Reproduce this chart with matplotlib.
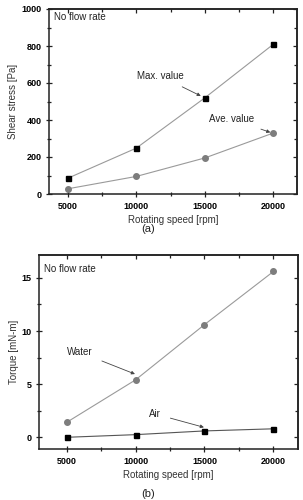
import matplotlib
matplotlib.use("Agg")
import matplotlib.pyplot as plt
from matplotlib.ticker import MultipleLocator

plt.rcParams['font.family'] = ['Liberation Sans', 'DejaVu Sans']

speed = [5000, 10000, 15000, 20000]
max_shear = [85, 248, 520, 810]
ave_shear = [28, 95, 195, 330]
torque_water = [1.4, 5.4, 10.6, 15.6]
torque_air = [0.0, 0.25, 0.6, 0.8]

line_col = '#9a9a9a'
circ_col = '#7d7d7d'


def style_axes(ax, xmaj, xmin, ymaj, ymin):
    ax.xaxis.set_major_locator(MultipleLocator(xmaj))
    ax.xaxis.set_minor_locator(MultipleLocator(xmin))
    ax.yaxis.set_major_locator(MultipleLocator(ymaj))
    ax.yaxis.set_minor_locator(MultipleLocator(ymin))
    for s in ax.spines.values():
        s.set_linewidth(1.1)
        s.set_color('#222222')
    ax.tick_params(which='both', direction='inout', labelsize=6.5,
                   width=0.9, color='#222222', pad=3.5)
    ax.tick_params(which='major', length=4)
    ax.tick_params(which='minor', length=3)
    for lab in ax.get_xticklabels() + ax.get_yticklabels():
        lab.set_fontweight('bold')
    # inward ticks on the top and right sides
    top = ax.secondary_xaxis('top')
    right = ax.secondary_yaxis('right')
    top.xaxis.set_major_locator(MultipleLocator(xmaj))
    top.xaxis.set_minor_locator(MultipleLocator(xmin))
    right.yaxis.set_major_locator(MultipleLocator(ymaj))
    right.yaxis.set_minor_locator(MultipleLocator(ymin))
    for sec in (top, right):
        sec.tick_params(which='both', direction='in', labelleft=False,
                        labelright=False, labeltop=False, labelbottom=False,
                        width=0.9, color='#222222')
        sec.tick_params(which='major', length=3)
        sec.tick_params(which='minor', length=2)
        for s in sec.spines.values():
            s.set_linewidth(1.1)
            s.set_color('#222222')


fig = plt.figure(figsize=(3.03, 5.0), dpi=100)

# (a) shear stress
ax1 = fig.add_axes([0.1617, 0.612, 0.8183, 0.37])
ax1.plot(speed, max_shear, color=line_col, lw=0.8, marker='s', ms=3.6,
         mfc='black', mec='black')
ax1.plot(speed, ave_shear, color=line_col, lw=0.8, marker='o', ms=4.0,
         mfc=circ_col, mec=circ_col)
ax1.set_xlim(3635, 21710)
ax1.set_ylim(0, 1000)
ax1.set_xlabel('Rotating speed [rpm]', fontsize=7, color='#333333', labelpad=3)
ax1.set_ylabel('Shear stress [Pa]', fontsize=7, color='#333333', labelpad=2)
style_axes(ax1, 5000, 2500, 200, 100)
ax1.text(0.02, 0.955, 'No flow rate', transform=ax1.transAxes, fontsize=7,
         ha='left', va='center', color='#222222')
ax1.annotate('Max. value', xy=(14700, 530), xytext=(11740, 638), fontsize=7,
             ha='center', va='center', color='#222222',
             arrowprops=dict(arrowstyle='-|>', color='#444444', lw=0.6,
                             mutation_scale=5, shrinkA=5, shrinkB=0))
ax1.annotate('Ave. value', xy=(19770, 333), xytext=(16970, 405), fontsize=7,
             ha='center', va='center', color='#222222',
             arrowprops=dict(arrowstyle='-|>', color='#444444', lw=0.6,
                             mutation_scale=5, shrinkA=5, shrinkB=0))
fig.text(0.49, 0.542, '(a)', fontsize=8, ha='center', va='center', color='#222222')

# (b) torque
ax2 = fig.add_axes([0.129, 0.102, 0.854, 0.388])
ax2.plot(speed, torque_water, color=line_col, lw=0.8, marker='o', ms=4.0,
         mfc=circ_col, mec=circ_col)
ax2.plot(speed, torque_air, color='#555555', lw=0.8, marker='s', ms=3.6,
         mfc='black', mec='black')
ax2.set_xlim(3010, 21770)
ax2.set_ylim(-1.1, 17.15)
ax2.set_xlabel('Rotating speed [rpm]', fontsize=7, color='#333333', labelpad=3)
ax2.set_ylabel('Torque [mN-m]', fontsize=7, color='#333333', labelpad=2)
style_axes(ax2, 5000, 2500, 5, 2.5)
ax2.text(0.02, 0.93, 'No flow rate', transform=ax2.transAxes, fontsize=7,
         ha='left', va='center', color='#222222')
ax2.annotate('Water', xy=(9960, 5.95), xytext=(5965, 8.0), fontsize=7,
             ha='center', va='center', color='#222222',
             arrowprops=dict(arrowstyle='-|>', color='#444444', lw=0.6,
                             mutation_scale=5, shrinkA=5, shrinkB=0))
ax2.annotate('Air', xy=(14960, 0.94), xytext=(11410, 2.2), fontsize=7,
             ha='center', va='center', color='#222222',
             arrowprops=dict(arrowstyle='-|>', color='#444444', lw=0.6,
                             mutation_scale=5, shrinkA=5, shrinkB=0))
fig.text(0.49, 0.012, '(b)', fontsize=8, ha='center', va='center', color='#222222')

fig.savefig('out.png', dpi=100)
